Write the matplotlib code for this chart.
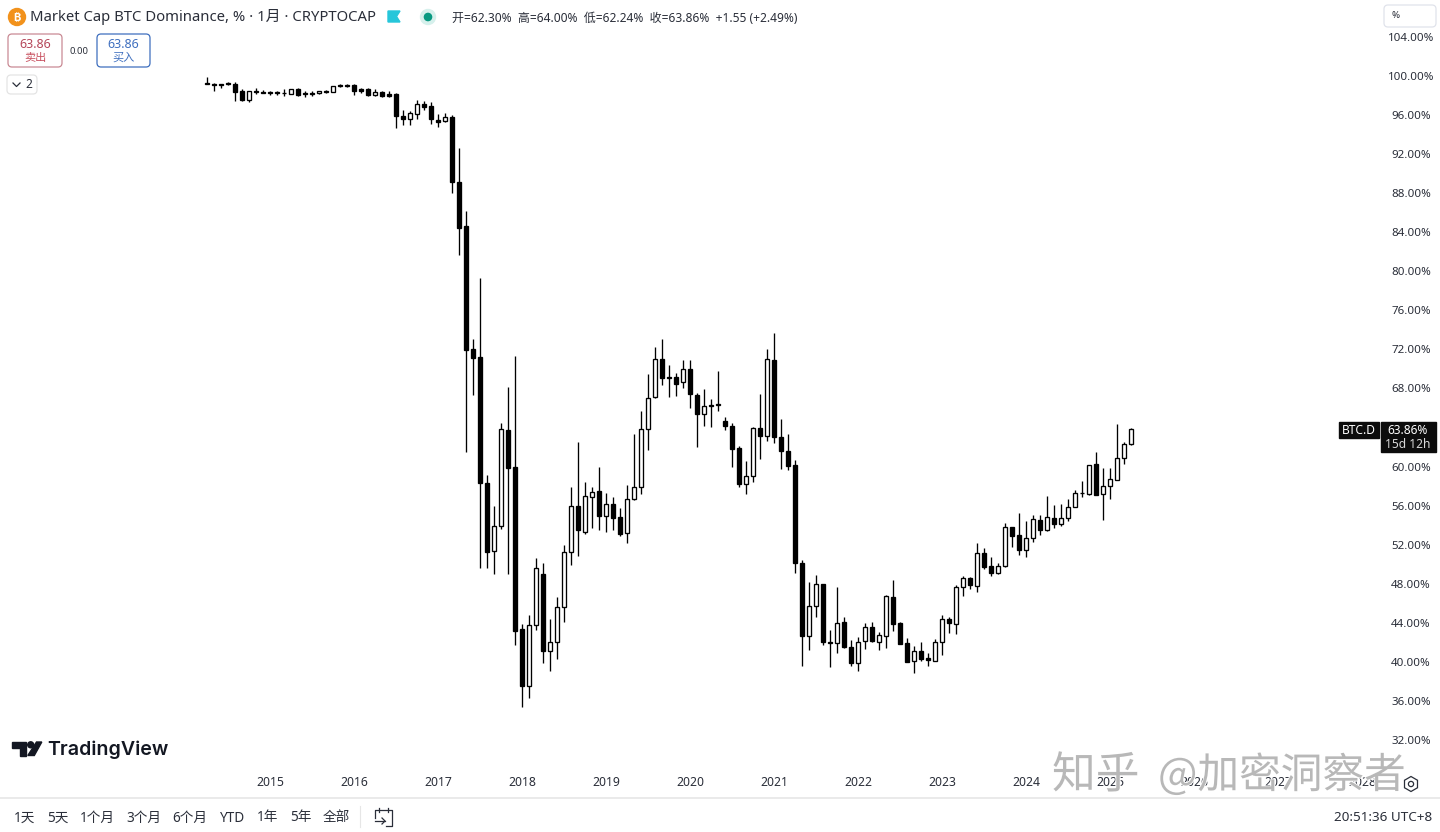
import matplotlib
matplotlib.use('Agg')
import matplotlib.pyplot as plt
from matplotlib.patches import Circle, FancyBboxPatch, Polygon, Rectangle, RegularPolygon
import matplotlib.patheffects as pe

plt.rcParams['font.family'] = ['Noto Sans', 'Noto Sans CJK SC', 'DejaVu Sans']

# monthly candles, Apr 2014 to Apr 2025
opens = [99.31, 99.18, 99.15, 99.25, 99.15, 98.46, 97.54, 98.46, 98.36, 98.33,
         98.33, 98.29, 98.19, 98.67, 98.23, 98.26, 98.23, 98.43, 98.39, 99.08,
         99.08, 99.08, 98.64, 98.67, 98.05, 98.39, 98.19, 98.16, 95.90, 95.63,
         96.14, 97.13, 96.93, 95.49, 95.36, 95.80, 89.14, 84.64, 72.01, 71.22,
         58.32, 51.32, 53.94, 63.78, 59.95, 43.36, 37.53, 43.74, 49.00, 41.14,
         42.00, 45.65, 51.22, 55.99, 53.27, 56.91, 57.50, 54.94, 56.17, 54.80,
         53.16, 56.65, 57.94, 63.88, 67.09, 70.98, 69.14, 69.14, 68.63, 69.96,
         67.33, 65.35, 66.30, 66.27, 64.63, 64.18, 61.87, 58.24, 59.00, 63.92,
         63.16, 70.91, 63.00, 61.59, 60.16, 50.09, 42.68, 45.72, 47.97, 42.03,
         41.90, 44.05, 41.49, 39.85, 42.17, 43.54, 42.06, 42.68, 46.67, 43.95,
         41.93, 40.06, 41.08, 40.36, 40.12, 42.00, 44.36, 43.91, 47.66, 48.59,
         47.77, 51.12, 49.82, 49.07, 49.79, 53.78, 52.96, 51.48, 52.65, 54.56,
         53.50, 54.76, 54.09, 54.76, 55.86, 57.26, 57.22, 60.26, 57.16, 57.98,
         58.65, 60.85, 62.30]
highs = [99.87, 99.31, 99.21, 99.35, 99.42, 98.67, 98.49, 98.74, 98.57, 98.49,
         98.49, 98.64, 98.64, 98.77, 98.49, 98.49, 98.43, 98.57, 98.95, 99.21,
         99.15, 99.15, 98.77, 98.77, 98.64, 98.49, 98.49, 98.29, 96.52, 96.45,
         97.54, 97.41, 97.31, 96.11, 96.18, 95.97, 92.59, 86.17, 73.06, 79.31,
         59.14, 55.99, 64.46, 68.18, 71.32, 43.85, 44.83, 50.60, 50.09, 44.36,
         46.67, 51.94, 57.94, 62.51, 58.45, 57.94, 59.95, 57.32, 56.91, 55.73,
         58.11, 63.33, 65.72, 69.48, 72.21, 73.03, 70.37, 69.55, 70.91, 70.91,
         67.50, 67.94, 66.95, 69.79, 65.11, 64.43, 62.14, 60.57, 64.08, 67.43,
         72.01, 73.65, 64.84, 63.30, 60.67, 50.43, 48.21, 48.89, 47.97, 43.26,
         47.70, 44.56, 42.24, 42.58, 43.95, 44.05, 43.06, 46.85, 48.38, 44.11,
         42.41, 41.62, 42.03, 40.88, 42.34, 44.77, 44.56, 47.87, 48.76, 48.66,
         52.14, 51.63, 50.74, 50.15, 54.25, 53.84, 55.21, 54.46, 55.07, 55.07,
         56.98, 56.09, 56.20, 56.71, 57.60, 58.52, 60.19, 61.46, 59.82, 59.82,
         64.33, 62.48, 64.00]
lows = [99.15, 98.49, 98.80, 99.08, 97.47, 97.47, 97.34, 98.16, 98.23, 98.08,
        98.05, 97.95, 98.19, 97.95, 97.88, 97.95, 98.19, 98.23, 98.39, 98.90,
        98.90, 98.05, 98.29, 97.95, 97.98, 97.88, 97.88, 94.64, 94.95, 94.95,
        95.63, 96.52, 95.05, 94.74, 95.26, 88.05, 81.67, 61.49, 67.33, 49.61,
        49.61, 49.03, 53.64, 49.00, 41.76, 35.41, 36.27, 43.26, 39.91, 39.09,
        40.29, 44.08, 49.92, 50.84, 53.09, 53.68, 53.50, 53.33, 53.50, 52.92,
        52.20, 56.57, 57.16, 61.70, 67.02, 68.38, 67.15, 67.23, 68.08, 66.03,
        62.03, 64.15, 64.02, 65.69, 63.74, 59.99, 57.94, 57.22, 58.39, 60.80,
        62.65, 62.44, 59.72, 59.68, 49.13, 39.61, 41.21, 44.56, 41.73, 39.50,
        40.94, 41.45, 39.61, 39.09, 41.32, 42.07, 41.21, 41.45, 43.19, 41.83,
        39.95, 38.83, 40.09, 39.61, 40.06, 40.73, 42.99, 42.88, 46.71, 47.43,
        47.18, 49.48, 48.82, 49.03, 49.75, 51.73, 50.97, 50.77, 52.30, 52.99,
        53.43, 53.71, 53.94, 54.42, 55.83, 56.85, 57.06, 57.09, 54.53, 56.65,
        58.62, 60.29, 62.24]
closes = [99.21, 99.11, 99.05, 99.15, 98.39, 97.54, 98.43, 98.36, 98.29, 98.26,
          98.26, 98.23, 98.64, 98.05, 98.16, 98.19, 98.43, 98.36, 98.95, 98.95,
          99.01, 98.49, 98.49, 98.05, 98.33, 97.95, 97.98, 95.90, 95.63, 96.21,
          97.10, 96.86, 95.63, 95.26, 95.80, 89.17, 84.43, 71.94, 71.15, 58.32,
          51.28, 53.94, 63.85, 59.88, 43.19, 37.53, 43.74, 49.58, 41.14, 42.00,
          45.65, 51.22, 55.99, 53.50, 56.98, 57.39, 54.94, 56.17, 54.73, 53.09,
          56.68, 57.94, 63.82, 67.02, 70.98, 69.10, 69.07, 68.49, 69.96, 67.40,
          65.38, 66.20, 66.20, 66.37, 64.15, 61.83, 58.24, 59.00, 63.92, 63.16,
          70.98, 63.06, 61.62, 60.09, 50.09, 42.68, 45.75, 47.97, 42.06, 41.93,
          44.01, 41.55, 39.91, 42.06, 43.54, 42.14, 42.72, 46.77, 43.91, 41.86,
          39.98, 41.08, 40.29, 40.16, 42.00, 44.36, 43.95, 47.66, 48.56, 47.84,
          51.12, 49.74, 49.07, 49.82, 53.78, 52.89, 51.48, 52.65, 54.60, 53.50,
          54.80, 54.12, 54.76, 55.89, 57.32, 57.32, 60.13, 57.12, 58.01, 58.70,
          60.85, 62.28, 63.86]

price_ticks = [32, 36, 40, 44, 48, 52, 56, 60, 64, 68, 72, 76, 80, 84, 88, 92, 96, 100, 104]
price_labels = ['32.00%', '36.00%', '40.00%', '44.00%', '48.00%', '52.00%', '56.00%',
                '60.00%', '64.00%', '68.00%', '72.00%', '76.00%', '80.00%', '84.00%',
                '88.00%', '92.00%', '96.00%', '100.00%', '104.00%']
year_ticks = [9, 21, 33, 45, 57, 69, 81, 93, 105, 117, 129, 141, 153, 165]
year_labels = ['2015', '2016', '2017', '2018', '2019', '2020', '2021', '2022', '2023',
               '2024', '2025', '2026', '2027', '2028']
range_buttons = ['1天', '5天', '1个月', '3个月', '6个月', 'YTD', '1年', '5年', '全部']
range_button_x = [24.5, 57.5, 97.5, 143.5, 190, 232.5, 267.5, 300.5, 336.5]

W, H = 1440, 832
TEXT = '#2a2e39'

fig = plt.figure(figsize=(14.4, 8.32), dpi=100, facecolor='white')

# price pane: 7 px per month, 9.765 px per percent
ax = fig.add_axes([0, (H - 770) / H, 1380 / W, 770 / H])
ax.set_xlim(-29.57, 167.57)
ax.set_ylim(28.93, 107.78)
for s in ax.spines.values():
    s.set_visible(False)

for i in range(len(opens)):
    ax.vlines(i, lows[i], highs[i], color='black', linewidth=0.95, zorder=2)
    up = closes[i] >= opens[i]
    bottom = min(opens[i], closes[i])
    height = abs(closes[i] - opens[i])
    ax.bar(i, height, bottom=bottom, width=0.62, facecolor='white' if up else 'black',
           edgecolor='black', linewidth=0.95, zorder=3)

ax.yaxis.tick_right()
ax.set_yticks(price_ticks)
ax.set_yticklabels(price_labels, ha='center', fontsize=8.3, color=TEXT)
ax.tick_params(axis='y', length=0, pad=22.3)
ax.set_xticks(year_ticks)
ax.set_xticklabels(year_labels, fontsize=8.8, color=TEXT)
ax.tick_params(axis='x', length=0, pad=4.5)

# overlay in screen pixels for the TradingView chrome
ui = fig.add_axes([0, 0, 1, 1], zorder=5)
ui.set_xlim(0, W)
ui.set_ylim(H, 0)
ui.axis('off')
ui.patch.set_alpha(0)


def label(x, y, s, size=8.5, color=TEXT, ha='left', **kw):
    return ui.text(x, y, s, fontsize=size, color=color, ha=ha, va='center', **kw)


def button(x0, y0, x1, y1, edge):
    ui.add_patch(FancyBboxPatch((x0 + 3, y0 + 3), x1 - x0 - 6, y1 - y0 - 6,
                                boxstyle='round,pad=3,rounding_size=4',
                                facecolor='white', edgecolor=edge, linewidth=0.9))


# header
ui.add_patch(Circle((17, 17), 8.5, color='#f2921c'))
label(17, 17, '₿', size=8, color='white', ha='center', fontweight='bold',
      family=['Inter', 'Roboto', 'Open Sans', 'Lato', 'Noto Sans', 'DejaVu Sans'])
label(30, 17, 'Market Cap BTC Dominance, % · 1月 · CRYPTOCAP', size=10.7)
ui.add_patch(Polygon([(388, 11), (400, 11), (396.5, 16.5), (400, 22), (388, 22)], color='#26c6da'))
ui.add_patch(Circle((428, 17), 7.5, color='#d6f0ec'))
ui.add_patch(Circle((428, 17), 3.6, color='#089981'))
label(452, 18, '开=62.30%  高=64.00%  低=62.24%  收=63.86%  +1.55 (+2.49%)', size=8.65)

# sell / buy buttons
button(8, 34, 62, 67, '#c98a94')
label(35, 44.5, '63.86', size=9, color='#b5475a', ha='center')
label(35, 58, '卖出', size=8, color='#c8505f', ha='center')
label(79, 51, '0.00', size=6.8, ha='center')
button(97, 34, 150, 67, '#3f6fbf')
label(123.5, 44.5, '63.86', size=9, color='#3f6fbf', ha='center')
label(123.5, 58, '买入', size=8, color='#3f6fbf', ha='center')
button(7, 75, 37, 94, '#e4e4e4')
ui.plot([13, 16.5, 20], [83, 86.5, 83], color=TEXT, linewidth=0.9)
label(29, 84.5, '2', size=8.5, ha='center')

# scale mode box
button(1384, 5, 1436, 27, '#e0e3eb')
label(1391, 16, '%', size=7)

# last price tags
ui.add_patch(Rectangle((1339, 422), 40, 16, color='#0c0c0c'))
ui.add_patch(Rectangle((1381, 422), 55, 30, color='#0c0c0c'))
label(1359, 431, 'BTC.D', size=8.6, color='white', ha='center')
label(1408, 431, '63.86%', size=8.6, color='white', ha='center', fontweight='bold')
label(1408, 445, '15d 12h', size=8.6, color='#d8d8d8', ha='center')

# TradingView logo
ui.add_patch(Polygon([(12, 742), (26, 742), (26, 755.5), (20, 755.5), (20, 747.5), (12, 747.5)],
                     color='#131722'))
ui.add_patch(Circle((30.7, 744.8), 3, color='#131722'))
ui.add_patch(Polygon([(36.5, 742), (41.8, 742), (34.3, 755.5), (27.8, 755.5)], color='#131722'))
label(47.5, 749.5, 'TradingView', size=14.1, color='#131722', fontweight='semibold', family=['Inter'])

# bottom toolbar
ui.plot([0, W], [797.5, 797.5], color='#e6e6e6', linewidth=1.2)
for x, s in zip(range_button_x, range_buttons):
    label(x, 818, s, size=9.8, ha='center')
ui.plot([360, 360], [806, 827], color='#e6e6e6', linewidth=0.8)
# go-to-date calendar icon
ui.plot([375, 375, 392, 392, 386], [818, 810, 810, 826, 826], color=TEXT, linewidth=0.9)
ui.plot([379, 379], [808, 812], color=TEXT, linewidth=0.9)
ui.plot([388, 388], [808, 812], color=TEXT, linewidth=0.9)
ui.plot([375, 385], [821, 821], color=TEXT, linewidth=0.9)
ui.plot([382, 385, 382], [818, 821, 824], color=TEXT, linewidth=0.9)
label(1432, 817.5, '20:51:36 UTC+8', size=9.7, ha='right')

# settings gear
ui.add_patch(RegularPolygon((1411, 784), 6, radius=7.5, facecolor='none', edgecolor=TEXT, linewidth=0.9))
ui.add_patch(Circle((1411, 784), 2.6, facecolor='none', edgecolor=TEXT, linewidth=0.9))

# zhihu watermark
wm1 = label(1052, 775, '知乎', size=31.5, color='#b8b8b8', family=['Noto Sans CJK SC'])
wm2 = label(1158, 775, '@加密洞察者', size=30, color='#b8b8b8', family=['Noto Sans CJK SC'])
for wm in (wm1, wm2):
    wm.set_path_effects([pe.withStroke(linewidth=1.3, foreground='white')])

fig.savefig('out.png', dpi=100, facecolor='white')
